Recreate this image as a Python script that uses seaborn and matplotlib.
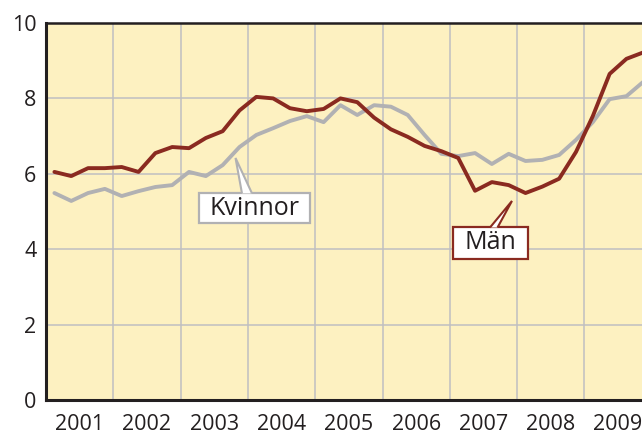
"""
Quarterly series for women (Kvinnor) and men (Män), 2001-2009.
"""
import numpy as np
import pandas as pd
import matplotlib.pyplot as plt
from matplotlib.path import Path
from matplotlib.patches import Polygon
import seaborn as sns

# data, one value per quarter
years = [2001, 2002, 2003, 2004, 2005, 2006, 2007, 2008, 2009]
quarters = [1, 2, 3, 4]
man = [6.05, 5.94, 6.15, 6.15,
       6.18, 6.05, 6.55, 6.71,
       6.68, 6.95, 7.13, 7.68,
       8.04, 8.00, 7.74, 7.66,
       7.72, 8.00, 7.90, 7.49,
       7.18, 6.98, 6.74, 6.60,
       6.42, 5.55, 5.78, 5.70,
       5.49, 5.66, 5.87, 6.58,
       7.53, 8.65, 9.05, 9.22]
kvinnor = [5.49, 5.28, 5.49, 5.60,
           5.41, 5.54, 5.65, 5.70,
           6.05, 5.94, 6.23, 6.71,
           7.03, 7.21, 7.40, 7.53,
           7.37, 7.82, 7.56, 7.82,
           7.78, 7.56, 7.03, 6.53,
           6.47, 6.55, 6.26, 6.53,
           6.34, 6.37, 6.50, 6.90,
           7.37, 7.98, 8.06, 8.44]
yticks = [0, 2, 4, 6, 8, 10]

# quarter midpoints on a year axis
t = [y + (q - 0.5) / 4 for y in years for q in quarters]
df = pd.concat([
    pd.DataFrame({'t': t, 'v': kvinnor, 'serie': 'Kvinnor'}),
    pd.DataFrame({'t': t, 'v': man, 'serie': 'Män'}),
])

bg = '#fdf1c1'
red = '#8a2a20'
grey = '#b1b1b3'
ink = '#231f20'

sns.set_style('white')
plt.rcParams['font.family'] = ['Open Sans', 'DejaVu Sans']

fig = plt.figure(figsize=(6.42, 4.34), dpi=100)
ax = fig.add_axes([46 / 642, 34 / 434, 1 - 46 / 642, 377 / 434])
ax.set_facecolor(bg)

sns.lineplot(data=df, x='t', y='v', hue='serie',
             palette={'Kvinnor': grey, 'Män': red},
             linewidth=2.8, legend=False, ax=ax, zorder=3)

ax.set_xlim(2001, 2001 + 596 / 67.3)
ax.set_ylim(0, 10)
ax.set_xticks(years, minor=False)
ax.set_xticklabels([])
ax.set_xticks([y + 0.5 for y in years], minor=True)
ax.set_xticklabels([str(y) for y in years], minor=True)
ax.set_yticks(yticks)
ax.tick_params(axis='both', which='both', length=0, labelsize=15.5,
               labelcolor=ink)
ax.tick_params(axis='x', which='minor', pad=10)
ax.tick_params(axis='y', pad=7)
ax.grid(True, which='major', color='#bfbfc1', linewidth=1.1, zorder=1)
ax.set_axisbelow(True)
ax.set_xlabel('')
ax.set_ylabel('')

for side in ['left', 'bottom']:
    ax.spines[side].set_color(ink)
    ax.spines[side].set_linewidth(2.2)
ax.spines['top'].set_color(ink)
ax.spines['top'].set_linewidth(1.8)
ax.spines['right'].set_visible(False)


def rect_box(padx, pady):
    # label box with separate horizontal / vertical padding
    def style(x0, y0, w, h, mutation_size):
        px, py = padx * mutation_size, pady * mutation_size
        return Path([(x0 - px, y0 - py), (x0 + w + px, y0 - py),
                     (x0 + w + px, y0 + h + py), (x0 - px, y0 + h + py),
                     (x0 - px, y0 - py)], closed=True)
    return style


# callout labels: box, then an open white wedge over the box top
ax.text(2004.105, 5.09, 'Kvinnor', fontsize=18, color=ink,
        ha='center', va='center', zorder=5,
        bbox=dict(boxstyle=rect_box(0.42, 0.1), fc='white', ec=grey, lw=1.6))
ax.add_patch(Polygon([(2003.912, 5.48), (2003.816, 6.42), (2004.061, 5.48)],
                     closed=False, fc='white', ec=grey, lw=1.5,
                     joinstyle='miter', zorder=6))

ax.text(2007.605, 4.165, 'Män', fontsize=18, color=ink,
        ha='center', va='center', zorder=5,
        bbox=dict(boxstyle=rect_box(0.48, 0.13), fc='white', ec=red, lw=1.6))
ax.add_patch(Polygon([(2007.597, 4.575), (2007.924, 5.28), (2007.709, 4.575)],
                     closed=False, fc='white', ec=red, lw=1.5,
                     joinstyle='miter', zorder=6))

plt.savefig('out.png', dpi=100)
